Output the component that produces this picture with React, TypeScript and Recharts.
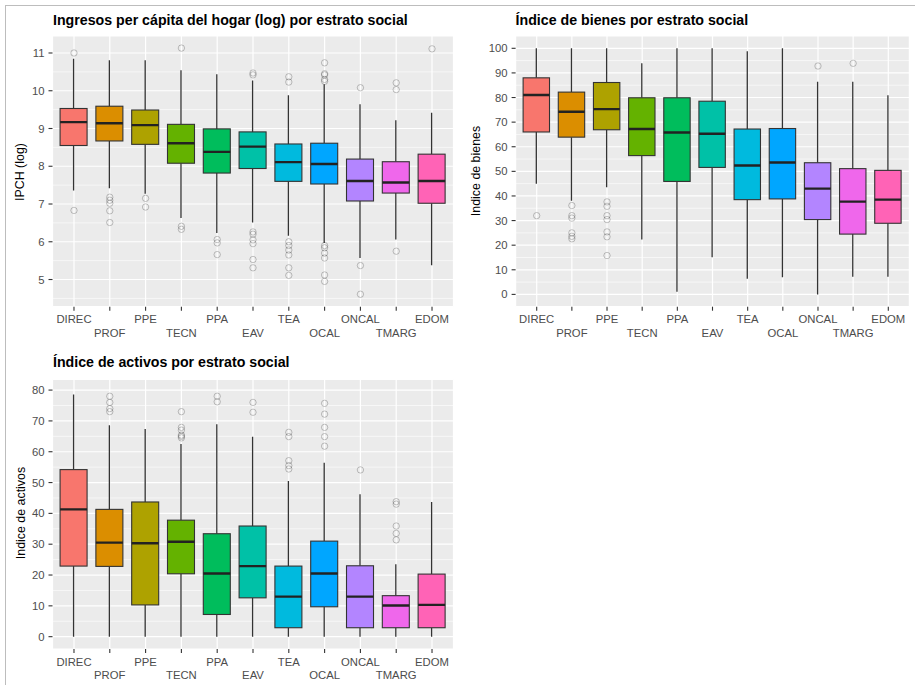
import React from "react";
import { ComposedChart, Bar, Scatter, XAxis, YAxis, CartesianGrid, Cell } from "recharts";

const FONT = '"Liberation Sans", Arial, sans-serif';

const CATS = ["DIREC", "PROF", "PPE", "TECN", "PPA", "EAV", "TEA", "OCAL", "ONCAL", "TMARG", "EDOM"];
const COLORS = ["#F8766D", "#DB8E00", "#AEA200", "#64B200", "#00BD5C", "#00C1A7", "#00BADE", "#00A6FF", "#B385FF", "#EF67EB", "#FF63B6"];
const IDX = CATS.map((_, i) => i);

// Ingresos per cápita del hogar (log)
const IPCH_LO = [7.36, 7.42, 7.27, 6.63, 6.23, 6.51, 6.16, 5.97, 5.57, 6.06, 5.38];
const IPCH_Q1 = [8.55, 8.67, 8.58, 8.08, 7.82, 7.94, 7.6, 7.53, 7.08, 7.29, 7.02];
const IPCH_MED = [9.17, 9.14, 9.09, 8.61, 8.38, 8.52, 8.11, 8.06, 7.61, 7.57, 7.61];
const IPCH_Q3 = [9.53, 9.59, 9.49, 9.11, 8.99, 8.91, 8.59, 8.61, 8.19, 8.12, 8.32];
const IPCH_HI = [10.85, 10.81, 10.81, 10.54, 10.44, 10.27, 9.88, 10.17, 9.64, 9.22, 9.42];
const IPCH_OUT = [
  [11.0, 6.83],
  [7.18, 7.1, 7.02, 6.82, 6.51],
  [7.15, 6.92],
  [11.13, 6.41, 6.33],
  [6.06, 5.97, 5.66],
  [10.47, 10.42, 6.26, 6.2, 6.05, 5.95, 5.53, 5.31],
  [10.37, 10.23, 6.0, 5.9, 5.78, 5.65, 5.31, 5.11],
  [10.74, 10.45, 10.42, 10.3, 10.25, 5.9, 5.84, 5.7, 5.57, 5.12, 4.95],
  [10.08, 5.37, 4.61],
  [10.21, 10.03, 5.75],
  [11.11],
];
const IPCH_TICKS = [5, 6, 7, 8, 9, 10, 11];
const IPCH_MINOR = [4.5, 5.5, 6.5, 7.5, 8.5, 9.5, 10.5];

// Indice de bienes
const BIEN_LO = [45, 38.1, 43.5, 22.3, 1.1, 15.1, 6.4, 7.0, 0, 7.2, 7.2];
const BIEN_Q1 = [66, 63.9, 66.9, 56.4, 45.9, 51.6, 38.5, 38.8, 30.4, 24.5, 28.9];
const BIEN_MED = [81, 74.2, 75.3, 67.2, 65.8, 65.3, 52.4, 53.6, 43, 37.7, 38.5];
const BIEN_Q3 = [88, 82.2, 86.1, 79.9, 79.9, 78.5, 67.2, 67.4, 53.5, 51.1, 50.4];
const BIEN_HI = [100, 100, 100, 93.9, 100, 100, 98.8, 100, 86.4, 86.4, 80.9];
const BIEN_OUT = [
  [32],
  [36.1, 32, 31, 25, 23.6, 22.6],
  [37.6, 35.8, 32, 30.4, 25.4, 23.4, 15.8],
  [],
  [],
  [],
  [],
  [],
  [92.8],
  [93.9],
  [],
];
const BIEN_TICKS = [0, 10, 20, 30, 40, 50, 60, 70, 80, 90, 100];
const BIEN_MINOR = [5, 15, 25, 35, 45, 55, 65, 75, 85, 95];

// Indice de activos
const ACT_LO = [0, 0, 0, 0, 0, 0, 0, 0, 0, 0, 0];
const ACT_Q1 = [22.9, 22.8, 10.3, 20.4, 7.2, 12.6, 2.9, 9.7, 2.9, 2.9, 2.9];
const ACT_MED = [41.3, 30.5, 30.3, 30.8, 20.5, 22.9, 13.0, 20.5, 13.0, 10.1, 10.3];
const ACT_Q3 = [54.2, 41.3, 43.7, 37.8, 33.4, 35.9, 22.9, 31.0, 23.0, 13.3, 20.3];
const ACT_HI = [78.6, 68.6, 67.4, 62.5, 68.9, 64.9, 50.5, 56.4, 46.2, 23.5, 43.7];
const ACT_OUT = [
  [],
  [78, 76, 74, 73],
  [],
  [73, 67.9, 67, 65.4, 65, 64.5],
  [78, 76.2],
  [76, 72.8],
  [66.3, 64.9, 57.1, 55.5, 54.4],
  [75.7, 72.2, 67.9, 64.9, 61.8],
  [54.1],
  [43.8, 43, 35.9, 33.5, 31.4],
  [],
];
const ACT_TICKS = [0, 10, 20, 30, 40, 50, 60, 70, 80];
const ACT_MINOR = [5, 15, 25, 35, 45, 55, 65, 75];

function makeRows(lo: number[], q1: number[], med: number[], q3: number[], hi: number[]) {
  return IDX.map((i) => ({ i, box: [q1[i], q3[i]], lo: lo[i], q1: q1[i], med: med[i], q3: q3[i], hi: hi[i] }));
}

function makeOut(out: number[][]) {
  return out.flatMap((vals, i) => vals.map((v) => ({ i, v })));
}

function BoxShape(props: any) {
  const { x, y, width, height, payload, fill } = props;
  if (x == null || y == null) return null;
  const top = Math.min(y, y + height);
  const h = Math.abs(height);
  const k = h / (payload.q3 - payload.q1);
  const py = (v: number) => top + (payload.q3 - v) * k;
  const cx = x + width / 2;
  return (
    <g>
      <line x1={cx} x2={cx} y1={py(payload.hi)} y2={top} stroke="#333" strokeWidth={1.3} />
      <line x1={cx} x2={cx} y1={top + h} y2={py(payload.lo)} stroke="#333" strokeWidth={1.3} />
      <rect x={x} y={top} width={width} height={h} fill={fill} stroke="#333" strokeWidth={1.1} />
      <line x1={x} x2={x + width} y1={py(payload.med)} y2={py(payload.med)} stroke="#222" strokeWidth={2.4} />
    </g>
  );
}

function Ring(props: any) {
  return <circle cx={props.cx} cy={props.cy} r={3.2} fill="none" stroke="#000" strokeOpacity={0.22} strokeWidth={1} />;
}

function DodgeTick(props: any) {
  const { x, y, payload } = props;
  const row = payload.value % 2;
  return (
    <text x={x} y={y + 6.6 + row * 13.4} textAnchor="middle" dominantBaseline="central" fontSize={11.3} fill="#4D4D4D" fontFamily={FONT}>
      {CATS[payload.value]}
    </text>
  );
}

function BoxPanel(p: any) {
  const rows = makeRows(p.lo, p.q1, p.med, p.q3, p.hi);
  const out = makeOut(p.out);
  return (
    <ComposedChart width={p.width} height={345} data={rows} margin={p.margin}>
      <CartesianGrid fill="#EBEBEB" stroke="#FFFFFF" strokeWidth={1.2} />
      <CartesianGrid stroke="#FFFFFF" strokeWidth={0.6} vertical={false} horizontalValues={p.minor} />
      <XAxis
        type="number"
        dataKey="i"
        domain={[-0.6, 10.6]}
        ticks={IDX}
        interval={0}
        allowDataOverflow
        axisLine={false}
        tickLine={{ stroke: "#333", strokeWidth: 1.1 }}
        tickSize={4}
        height={30}
        tick={<DodgeTick />}
      />
      <YAxis
        type="number"
        domain={p.domain}
        ticks={p.ticks}
        interval={0}
        allowDataOverflow
        axisLine={false}
        tickLine={{ stroke: "#333", strokeWidth: 1.1 }}
        tickSize={4}
        tickMargin={4}
        width={p.yWidth}
        tick={{ fontSize: 11.3, fill: "#4D4D4D", fontFamily: FONT }}
      />
      <Scatter data={out} dataKey="v" isAnimationActive={false} shape={Ring} />
      <Bar dataKey="box" barSize={p.barSize} isAnimationActive={false} shape={BoxShape}>
        {rows.map((_, i) => (
          <Cell key={i} fill={COLORS[i]} />
        ))}
      </Bar>
    </ComposedChart>
  );
}

const titleStyle: React.CSSProperties = {
  position: "absolute",
  fontFamily: FONT,
  fontWeight: "bold",
  fontSize: 14.2,
  lineHeight: 1,
  color: "#000",
  whiteSpace: "nowrap",
};

function YTitle({ text, x, y }: { text: string; x: number; y: number }) {
  return (
    <div
      style={{
        position: "absolute",
        left: x,
        top: y,
        transform: "translate(-50%, -50%) rotate(-90deg)",
        fontFamily: FONT,
        fontSize: 12.4,
        lineHeight: 1,
        whiteSpace: "nowrap",
        color: "#000",
      }}
    >
      {text}
    </div>
  );
}

export default function App() {
  return (
    <div style={{ position: "absolute", left: 0, top: 0, width: 915, height: 685, background: "#fff", overflow: "hidden" }}>
      <div style={{ position: "absolute", left: 5, top: 5, right: 0, bottom: 0, borderLeft: "1px solid #BDBDBD", borderTop: "1px solid #BDBDBD" }} />

      <div style={{ position: "absolute", left: 0, top: 0 }}>
        <BoxPanel
          width={460}
          margin={{ top: 36, right: 6.5, bottom: 8.3, left: 0 }}
          yWidth={52.5}
          barSize={27}
          domain={[4.28, 11.45]}
          ticks={IPCH_TICKS}
          minor={IPCH_MINOR}
          lo={IPCH_LO}
          q1={IPCH_Q1}
          med={IPCH_MED}
          q3={IPCH_Q3}
          hi={IPCH_HI}
          out={IPCH_OUT}
        />
      </div>
      <div style={{ position: "absolute", left: 460, top: 0 }}>
        <BoxPanel
          width={455}
          margin={{ top: 36, right: 5.6, bottom: 8.3, left: 0 }}
          yWidth={55.6}
          barSize={26.4}
          domain={[-5, 105]}
          ticks={BIEN_TICKS}
          minor={BIEN_MINOR}
          lo={BIEN_LO}
          q1={BIEN_Q1}
          med={BIEN_MED}
          q3={BIEN_Q3}
          hi={BIEN_HI}
          out={BIEN_OUT}
        />
      </div>
      <div style={{ position: "absolute", left: 0, top: 340 }}>
        <BoxPanel
          width={460}
          margin={{ top: 39.3, right: 6.5, bottom: 6, left: 0 }}
          yWidth={52.5}
          barSize={27}
          domain={[-4, 83.5]}
          ticks={ACT_TICKS}
          minor={ACT_MINOR}
          lo={ACT_LO}
          q1={ACT_Q1}
          med={ACT_MED}
          q3={ACT_Q3}
          hi={ACT_HI}
          out={ACT_OUT}
        />
      </div>

      <div style={{ ...titleStyle, left: 53, top: 13 }}>Ingresos per cápita del hogar (log) por estrato social</div>
      <div style={{ ...titleStyle, left: 515.6, top: 13 }}>Índice de bienes por estrato social</div>
      <div style={{ ...titleStyle, left: 53, top: 355.3 }}>Índice de activos por estrato social</div>

      <YTitle text="IPCH (log)" x={20} y={172} />
      <YTitle text="Indice de bienes" x={475.8} y={171} />
      <YTitle text="Indice de activos" x={20.8} y={513} />
    </div>
  );
}
